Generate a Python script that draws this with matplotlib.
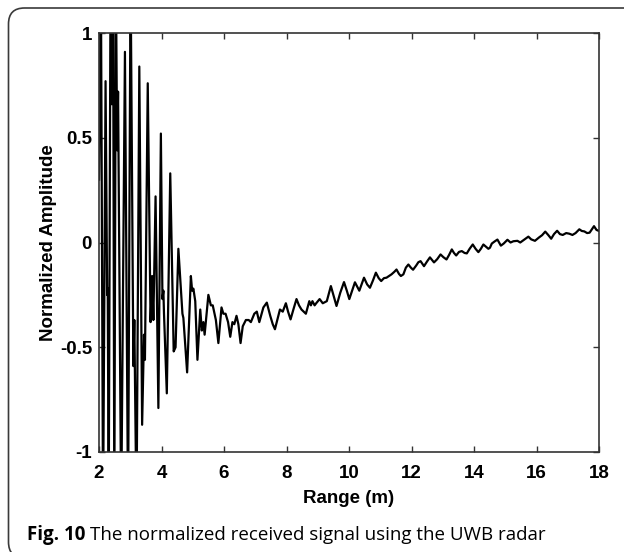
import numpy as np
import matplotlib as mpl
mpl.use("Agg")
import matplotlib.pyplot as plt
from matplotlib.patches import FancyBboxPatch

# signal: range (m) and normalized amplitude
# (values beyond +-1 are clipped by the axes, as in the original)
range_m = [
    2.00, 2.06, 2.13, 2.21, 2.26, 2.28, 2.31, 2.37, 2.41, 2.45, 2.49, 2.54,
    2.58, 2.61, 2.71, 2.83, 2.93, 3.01, 3.10, 3.13, 3.20, 3.29, 3.38, 3.44,
    3.47, 3.56, 3.65, 3.70, 3.74, 3.81, 3.90, 3.98, 4.03, 4.06, 4.08, 4.17,
    4.28, 4.39, 4.45, 4.54, 4.67, 4.70, 4.82, 4.94, 4.98, 5.02, 5.08, 5.15,
    5.24, 5.29, 5.34, 5.38, 5.50, 5.58, 5.64, 5.74, 5.82, 5.92, 5.98, 6.05,
    6.13, 6.20, 6.27, 6.33, 6.40, 6.46, 6.53, 6.60, 6.70, 6.79, 6.86, 6.97,
    7.05, 7.13, 7.26, 7.37, 7.48, 7.56, 7.63, 7.72, 7.79, 7.88, 7.98, 8.05,
    8.13, 8.22, 8.32, 8.40, 8.48, 8.62, 8.73, 8.78, 8.83, 8.90, 8.95, 9.06,
    9.16, 9.29, 9.42, 9.52, 9.60, 9.72, 9.84, 9.93, 10.01, 10.10, 10.19, 10.33,
    10.48, 10.58, 10.67, 10.77, 10.86, 10.95, 11.03, 11.12, 11.20, 11.28, 11.36, 11.45,
    11.52, 11.60, 11.66, 11.74, 11.82, 11.90, 11.98, 12.05, 12.15, 12.22, 12.29, 12.40,
    12.50, 12.59, 12.72, 12.82, 12.93, 13.02, 13.12, 13.20, 13.29, 13.36, 13.43, 13.52,
    13.61, 13.70, 13.77, 13.86, 13.96, 14.05, 14.14, 14.22, 14.30, 14.38, 14.46, 14.51,
    14.57, 14.66, 14.75, 14.86, 14.95, 15.07, 15.17, 15.26, 15.39, 15.48, 15.58, 15.74,
    15.83, 15.95, 16.08, 16.18, 16.28, 16.38, 16.47, 16.56, 16.66, 16.75, 16.84, 16.95,
    17.05, 17.15, 17.25, 17.37, 17.45, 17.53, 17.62, 17.70, 17.78, 17.84, 17.92, 18.00,
]
amplitude = [
    0.30, 1.30, -1.30, 0.77, -0.25, -0.22, -1.30, 1.30, 0.66, 1.30, -1.30, 1.30,
    0.44, 0.72, -1.30, 0.91, -1.30, 1.30, -0.59, -0.37, -1.30, 0.84, -0.87, -0.44,
    -0.56, 0.76, -0.38, -0.16, -0.37, 0.22, -0.79, 0.52, -0.27, -0.23, -0.34, -0.72,
    0.33, -0.52, -0.50, -0.03, -0.34, -0.36, -0.62, -0.16, -0.23, -0.22, -0.28, -0.56,
    -0.32, -0.42, -0.38, -0.44, -0.25, -0.30, -0.30, -0.37, -0.48, -0.31, -0.34, -0.34,
    -0.38, -0.45, -0.38, -0.39, -0.35, -0.39, -0.48, -0.40, -0.37, -0.37, -0.38, -0.34,
    -0.33, -0.38, -0.31, -0.287, -0.35, -0.39, -0.414, -0.36, -0.32, -0.33, -0.29, -0.33,
    -0.367, -0.32, -0.27, -0.30, -0.32, -0.34, -0.28, -0.30, -0.28, -0.30, -0.29, -0.27,
    -0.29, -0.28, -0.208, -0.26, -0.303, -0.24, -0.189, -0.23, -0.27, -0.23, -0.19, -0.23,
    -0.168, -0.20, -0.216, -0.18, -0.144, -0.17, -0.184, -0.17, -0.168, -0.16, -0.152, -0.14,
    -0.129, -0.15, -0.16, -0.152, -0.12, -0.105, -0.12, -0.13, -0.11, -0.094, -0.089, -0.113,
    -0.09, -0.071, -0.095, -0.08, -0.057, -0.07, -0.081, -0.06, -0.033, -0.05, -0.062, -0.045,
    -0.041, -0.05, -0.052, -0.03, -0.0095, -0.03, -0.046, -0.03, -0.0095, -0.02, -0.03, -0.025,
    -0.005, 0.005, 0.014, -0.015, -0.005, 0.013, 0.0, 0.006, 0.008, 0.0, 0.011, 0.028,
    0.015, 0.008, 0.024, 0.035, 0.052, 0.035, 0.018, 0.04, 0.056, 0.04, 0.036, 0.045,
    0.042, 0.036, 0.045, 0.063, 0.055, 0.053, 0.045, 0.047, 0.065, 0.078, 0.06, 0.055,
]

xticks = [2, 4, 6, 8, 10, 12, 14, 16, 18]
yticks = [-1, -0.5, 0, 0.5, 1]
ytick_labels = ["-1", "-0.5", "0", "0.5", "1"]

W, H = 624, 552
fig = plt.figure(figsize=(W / 100, H / 100), dpi=100)

# rounded frame around figure + caption (in inches, runs off right/bottom)
frame = FancyBboxPatch((0.085, -0.06), 6.6, 5.5,
                       boxstyle="round,pad=0,rounding_size=0.16",
                       transform=fig.dpi_scale_trans, fill=False,
                       edgecolor="#3a3a3a", linewidth=1.2)
fig.patches.append(frame)

ax = fig.add_axes([99 / W, 1 - 452 / H, 500 / W, 419 / H])
ax.plot(range_m, amplitude, color="black", linewidth=1.6)

ax.set_xlim(2, 18)
ax.set_ylim(-1, 1)
ax.set_xticks(xticks)
ax.set_yticks(yticks)
ax.set_yticklabels(ytick_labels)

bold = dict(family="Liberation Sans", weight="bold", size=13.5)
for lab in ax.get_xticklabels() + ax.get_yticklabels():
    lab.set_fontfamily("Liberation Sans")
    lab.set_fontweight("bold")
    lab.set_fontsize(13.5)

ax.tick_params(direction="in", length=4, width=1, top=True, right=True,
               color="#333333")
ax.tick_params(axis="x", pad=9)
ax.tick_params(axis="y", pad=5)
for s in ax.spines.values():
    s.set_linewidth(1.2)
    s.set_color("#333333")

ax.set_xlabel("Range (m)", fontdict=bold, labelpad=6)
ax.set_ylabel("Normalized Amplitude", fontdict=bold, labelpad=2)

# caption: bold figure number followed by regular text
t1 = fig.text(27 / W, 1 - 535 / H, "Fig. 10", family="Open Sans",
              weight="bold", size=13.5, va="center")
fig.canvas.draw()
bb = t1.get_window_extent()
fig.text((bb.x1 + 5) / W, 1 - 535 / H,
         "The normalized received signal using the UWB radar",
         family="Open Sans", size=13.5, va="center")

fig.savefig("out.png", dpi=100)
